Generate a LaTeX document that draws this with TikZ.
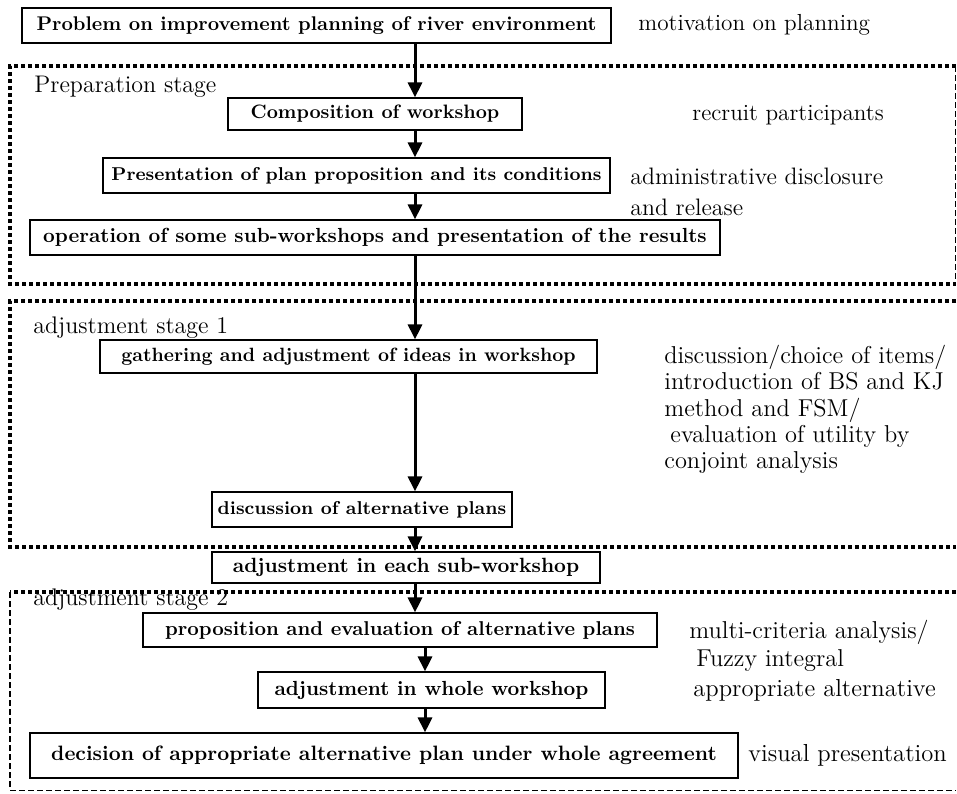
\documentclass[tikz,border=0pt]{standalone}
\usepackage{tikz}
\usetikzlibrary{arrows.meta,positioning}
\newcommand{\bsz}[1]{\fontsize{#1}{11}\selectfont\bfseries}
\newcommand{\nsz}[2]{\fontsize{#1}{#2}\selectfont}
\tikzstyle{stepbox} = [draw, line width=0.6pt, inner sep=0pt, font=\bsz{10}]
\tikzstyle{note} = [anchor=west, inner sep=0pt, align=left, font=\nsz{11.6}{13.1}]
\tikzstyle{arrow} = [line width=1.5pt, -{Triangle[width=7pt,length=7.5pt]}]
\tikzstyle{dots} = [line width=2pt, dash pattern=on 2pt off 1.5pt]
\tikzstyle{thindash} = [line width=0.5pt, dash pattern=on 3pt off 1.5pt]

\begin{document}
\begin{tikzpicture}[x=0.5pt,y=-0.5pt]
\useasboundingbox (0,0) rectangle (957,793);

% stage frames
\draw[dots] (956,66) -- (10,66) -- (10,284) -- (956,284);
\draw[thindash] (955,66) -- (955,284);
\draw[dots] (956,301) -- (10,301) -- (10,547) -- (956,547);
\draw[dots] (956,592) -- (10,592);
\draw[line width=1pt, dash pattern=on 3pt off 1.5pt] (10,592) -- (10,790);
\draw[thindash] (10,790) -- (956,790);

\node[note, font=\nsz{12}{14}] (stage0) at (34,87) {Preparation stage};
\node[note, font=\nsz{12}{14}] (stage1) at (33,328) {adjustment stage 1};
\node[note, font=\nsz{12}{14}] (stage2) at (33,600) {adjustment stage 2};

% boxes
\node[stepbox, minimum width=294.5pt, minimum height=17.5pt, font=\bsz{9.9}] (problem) at (316.5,25.5) {Problem on improvement planning of river environment};
\node[stepbox, minimum width=147pt, minimum height=16pt, font=\bsz{9.7}] (compose) at (375,114) {Composition of workshop};
\node[stepbox, minimum width=253.5pt, minimum height=17.5pt, font=\bsz{9.3}] (present) at (356.5,175.5) {Presentation of plan proposition and its conditions};
\node[stepbox, minimum width=345pt, minimum height=17.5pt, font=\bsz{10.2}] (operate) at (375,237.5) {operation of some sub-workshops and presentation of the results};
\node[stepbox, minimum width=248.5pt, minimum height=16.5pt, font=\bsz{9.6}] (gather) at (348.5,356.5) {gathering and adjustment of ideas in workshop};
\node[stepbox, minimum width=150pt, minimum height=17.5pt, font=\bsz{9.3}] (discuss) at (362,509.5) {discussion of alternative plans};
\node[stepbox, minimum width=194pt, minimum height=15.5pt, font=\bsz{10.3}] (subadj) at (406,567.5) {adjustment in each sub-workshop};
\node[stepbox, minimum width=257pt, minimum height=17pt, font=\bsz{10}] (propose) at (400,630) {proposition and evaluation of alternative plans};
\node[stepbox, minimum width=173.5pt, minimum height=18pt, font=\bsz{10.2}] (wholeadj) at (431.5,690) {adjustment in whole workshop};
\node[stepbox, minimum width=354pt, minimum height=22.5pt, font=\bsz{10.4}] (decide) at (384,755.5) {decision of appropriate alternative plan under whole agreement};

% side notes
\node[note] (n0) at (638,25) {motivation on planning};
\node[note] (n1) at (692,115) {recruit participants};
\node[note, font=\nsz{11.9}{15.5}] (n2) at (630,191.5) {administrative disclosure\\and release};
\node[note, font=\nsz{12.2}{13.1}] (n3) at (664,409.5) {discussion/choice of items/\\introduction of BS and KJ\\method and FSM/\\\hspace{3pt}evaluation of utility by\\conjoint analysis};
\node[note, font=\nsz{12.2}{14}] (n4) at (689,646) {multi-criteria analysis/\\\hspace{3.5pt}Fuzzy integral};
\node[note, font=\nsz{12.3}{14}] (n5) at (693,690) {appropriate alternative};
\node[note, font=\nsz{12.3}{14}] (n6) at (748,755) {visual presentation};

% flow
\coordinate (spine) at (415,0);
\coordinate (spine2) at (425,0);
\draw[arrow] (problem.south -| spine) -- (compose.north -| spine);
\draw[arrow] (compose.south -| spine) -- (present.north -| spine);
\draw[arrow] (present.south -| spine) -- (operate.north -| spine);
\draw[arrow] (operate.south -| spine) -- (gather.north -| spine);
\draw[arrow] (gather.south -| spine) -- (discuss.north -| spine);
\draw[arrow] (discuss.south -| spine) -- (subadj.north -| spine);
\draw[arrow] (subadj.south -| spine) -- (propose.north -| spine);
\draw[arrow] (propose.south -| spine2) -- (wholeadj.north -| spine2);
\draw[arrow] (wholeadj.south -| spine2) -- (decide.north -| spine2);
\end{tikzpicture}
\end{document}
